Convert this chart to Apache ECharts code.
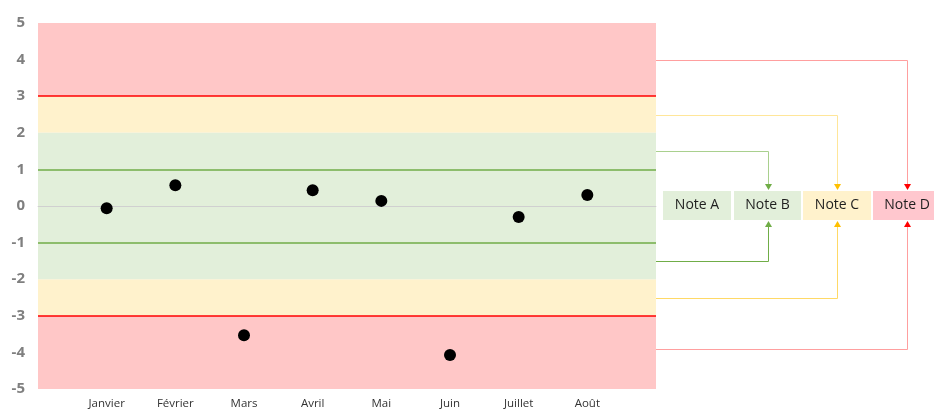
<!DOCTYPE html>
<html>
<head>
<meta charset="utf-8">
<script src="https://cdn.jsdelivr.net/npm/echarts@6/dist/echarts.min.js"></script>
<style>
  html, body { margin: 0; padding: 0; background: #fff; }
  #chart { width: 934px; height: 410px; }
</style>
</head>
<body>
<div id="chart"></div>
<script>
// Monthly scores
const months = ['Janvier', 'Février', 'Mars', 'Avril', 'Mai', 'Juin', 'Juillet', 'Août'];
const scores = [-0.06, 0.57, -3.53, 0.43, 0.14, -4.07, -0.3, 0.3];

// Zone boundaries (value ranges)
const redZones = [[3, 5], [-5, -3]];
const yellowZones = [[2, 3], [-3, -2]];
const greenZones = [[-2, 2]];
const redLimits = [3, -3];
const greenLimits = [1, -1];

// Notes and the levels that lead to them
const notes = ['Note A', 'Note B', 'Note C', 'Note D'];
const noteLinks = [
  { note: 1, from: [1.5, -1.5] },
  { note: 2, from: [2.5, -2.5] },
  { note: 3, from: [4, -3.9] }
];

const COL = {
  red: '#FFC7C7', yellow: '#FFF2CC', green: '#E2EFDA',
  redLine: '#FF0000', greenLine: '#70AD47'
};
const noteFill = [COL.green, COL.green, COL.yellow, '#FFC7CE'];
const linkStyles = {
  1: { top: '#A9D08E', bottom: '#70AD47', arrow: '#70AD47' },
  2: { top: '#FFE699', bottom: '#FFD966', arrow: '#FFC000' },
  3: { top: '#FF9F9F', bottom: '#FF9F9F', arrow: '#FF0000' }
};

// padded category list so points sit one step in from each edge
const cats = [''].concat(months, ['']);
const seriesData = [null].concat(scores, [null]);

const chart = echarts.init(document.getElementById('chart'));

function zoneAreas(list, color) {
  return list.map(z => [
    { yAxis: z[0], itemStyle: { color: color, opacity: 1 } },
    { yAxis: z[1] }
  ]);
}

chart.setOption({
  animation: false,
  grid: { left: 38, right: 278, top: 23, bottom: 20.5 },
  xAxis: {
    type: 'category',
    data: cats,
    boundaryGap: false,
    axisLine: { show: true, lineStyle: { color: '#D9D9D9', width: 1 } },
    axisTick: { show: true, alignWithLabel: true, length: 4, lineStyle: { color: '#D9D9D9' },
      interval: (i) => i > 0 && i < cats.length - 1 },
    axisLabel: { color: '#333333', fontSize: 11.5, fontFamily: 'Open Sans', margin: 9, interval: 0 },
    splitLine: { show: false }
  },
  yAxis: {
    type: 'value',
    min: -5, max: 5, interval: 1,
    axisLine: { show: false },
    axisTick: { show: false },
    splitLine: { show: false },
    axisLabel: { color: '#7F7F7F', fontSize: 15, fontFamily: 'Open Sans', fontWeight: 'bold', margin: 13 }
  },
  series: [
    {
      type: 'scatter',
      data: seriesData,
      symbol: 'circle',
      symbolSize: 12,
      itemStyle: { color: '#000000', opacity: 1 },
      z: 5,
      markArea: {
        silent: true,
        data: zoneAreas(redZones, COL.red)
          .concat(zoneAreas(yellowZones, COL.yellow))
          .concat(zoneAreas(greenZones, COL.green))
      },
      markLine: {
        silent: true,
        symbol: 'none',
        label: { show: false },
        data: [{ yAxis: 0, lineStyle: { color: '#D0D0D0', width: 1, type: 'solid' } }]
          .concat(redLimits.map(v => ({ yAxis: v, lineStyle: { color: COL.redLine, width: 1.5, type: 'solid' } })))
          .concat(greenLimits.map(v => ({ yAxis: v, lineStyle: { color: COL.greenLine, width: 1.5, type: 'solid' } })))
      }
    }
  ]
});

// Note boxes with elbow connectors from the zone edges
const plotRight = 656;
const boxTop = 191, boxH = 29;
const boxLeft = [663, 734, 803, 873];
const boxW = [68, 67, 68, 68];
const graphics = [];
const crisp = (v) => Math.round(v) + 0.5;

notes.forEach((name, i) => {
  graphics.push({
    type: 'rect',
    shape: { x: boxLeft[i], y: boxTop, width: boxW[i], height: boxH },
    style: { fill: noteFill[i] }
  });
  graphics.push({
    type: 'text',
    x: boxLeft[i] + boxW[i] / 2,
    y: boxTop + boxH / 2,
    style: { text: name, fill: '#1F1F1F', font: '14px "Open Sans"', align: 'center', verticalAlign: 'middle' }
  });
});

noteLinks.forEach(link => {
  const i = link.note;
  const st = linkStyles[i];
  const cx = crisp(boxLeft[i] + boxW[i] / 2);
  const yTop = crisp(chart.convertToPixel({ yAxisIndex: 0 }, link.from[0]));
  const yBot = crisp(chart.convertToPixel({ yAxisIndex: 0 }, link.from[1]));
  graphics.push({
    type: 'polyline',
    shape: { points: [[plotRight, yTop], [cx, yTop], [cx, boxTop - 5]] },
    style: { stroke: st.top, lineWidth: 1, fill: null }
  });
  graphics.push({
    type: 'polygon',
    shape: { points: [[cx - 3.5, boxTop - 7], [cx + 3.5, boxTop - 7], [cx, boxTop - 1]] },
    style: { fill: st.arrow }
  });
  graphics.push({
    type: 'polyline',
    shape: { points: [[plotRight, yBot], [cx, yBot], [cx, boxTop + boxH + 5]] },
    style: { stroke: st.bottom, lineWidth: 1, fill: null }
  });
  graphics.push({
    type: 'polygon',
    shape: { points: [[cx - 3.5, boxTop + boxH + 7], [cx + 3.5, boxTop + boxH + 7], [cx, boxTop + boxH + 1]] },
    style: { fill: st.arrow }
  });
});

chart.setOption({ graphic: graphics });
</script>
</body>
</html>
